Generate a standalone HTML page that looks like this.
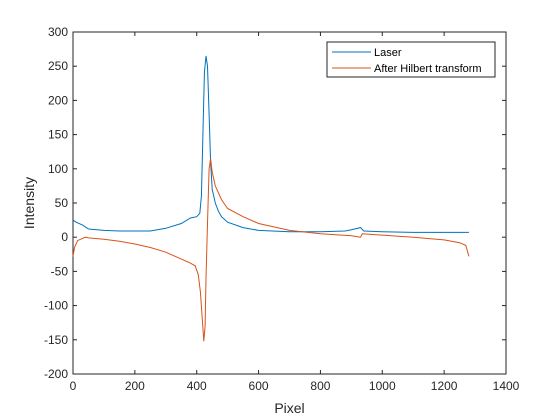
<!DOCTYPE html>
<html><head><meta charset="utf-8"><style>
html,body{margin:0;padding:0;background:#fff;width:560px;height:420px;overflow:hidden}
svg{display:block;font-family:"Liberation Sans",Arial,sans-serif}
</style></head><body>
<svg id="chart" width="560" height="420"></svg>
<script>
const xTicks=[0,200,400,600,800,1000,1200,1400];
const yTicks=[-200,-150,-100,-50,0,50,100,150,200,250,300];
const laserX=[0,10,30,50,100,150,200,250,300,350,380,400,410,415,420,425,430,435,440,445,450,460,470,480,500,550,600,700,800,880,900,930,940,1000,1100,1200,1280];
const laserY=[25,22,18,12,10,9,9,9,13,20,28,30,35,60,150,240,265,250,180,110,70,50,38,30,22,14,10,8,8,9,11,14,9,8,7,7,7];
const hilbX=[0,5,15,40,50,100,150,200,250,300,350,380,395,405,412,418,423,427,430,435,440,445,450,460,480,500,550,600,700,800,900,930,935,1000,1100,1200,1250,1270,1280];
const hilbY=[-28,-15,-5,0,-1,-3,-6,-10,-15,-22,-32,-38,-42,-55,-80,-120,-152,-130,-60,20,100,115,95,75,55,42,30,20,10,5,2,0,5,3,0,-4,-8,-12,-28];
const L=73,R=506,T=32,B=374;
const sx=v=>L+(v-0)/1400*(R-L);
const sy=v=>B-(v+200)/500*(B-T);
const NS="http://www.w3.org/2000/svg";
const svg=document.getElementById('chart');
function mk(tag,attrs,parent){const e=document.createElementNS(NS,tag);for(const k in attrs)e.setAttribute(k,attrs[k]);(parent||svg).appendChild(e);return e;}
let e=mk('rect',{x:L,y:T,width:R-L,height:B-T,fill:'#fff',stroke:'#262626','stroke-width':1});


xTicks.forEach(t=>{const x=sx(t);
 mk('line',{x1:x,x2:x,y1:B,y2:B-4,stroke:'#262626'});mk('line',{x1:x,x2:x,y1:T,y2:T+4,stroke:'#262626'});
 const tx=mk('text',{x:x,y:B+16,'text-anchor':'middle','font-size':12,fill:'#262626'});tx.textContent=t;
 
 });
yTicks.forEach(t=>{const y=sy(t);
 mk('line',{x1:L,x2:L+4,y1:y,y2:y,stroke:'#262626'});mk('line',{x1:R,x2:R-4,y1:y,y2:y,stroke:'#262626'});
 const tx=mk('text',{x:L-5,y:y+4,'text-anchor':'end','font-size':12,fill:'#262626'});tx.textContent=t;
 
 });
function line(xs,ys,color,name){const d=xs.map((x,i)=>(i?'L':'M')+sx(x).toFixed(1)+','+sy(ys[i]).toFixed(1)).join('');
 const p=mk('path',{d:d,fill:'none',stroke:color,'stroke-width':1});
 
 }
line(laserX,laserY,'#0072BD','laser-line');
line(hilbX,hilbY,'#D95319','hilbert-line');
let xl=mk('text',{x:(L+R)/2,y:413,'text-anchor':'middle','font-size':14,fill:'#262626'});xl.textContent='Pixel';


let yl=mk('text',{x:0,y:0,transform:'translate(34,'+((T+B)/2)+') rotate(-90)','text-anchor':'middle','font-size':14,fill:'#262626'});yl.textContent='Intensity';


const lg=mk('g',{});


mk('rect',{x:327,y:42,width:168,height:35,fill:'#fff',stroke:'#262626'},lg);
mk('line',{x1:332,x2:371,y1:52,y2:52,stroke:'#0072BD'},lg);
mk('line',{x1:332,x2:371,y1:68,y2:68,stroke:'#D95319'},lg);
let t1=mk('text',{x:374,y:56,'font-size':11,fill:'#000'},lg);t1.textContent='Laser';


let t2=mk('text',{x:374,y:72,'font-size':11,fill:'#000'},lg);t2.textContent='After Hilbert transform';


</script>
</body></html>
